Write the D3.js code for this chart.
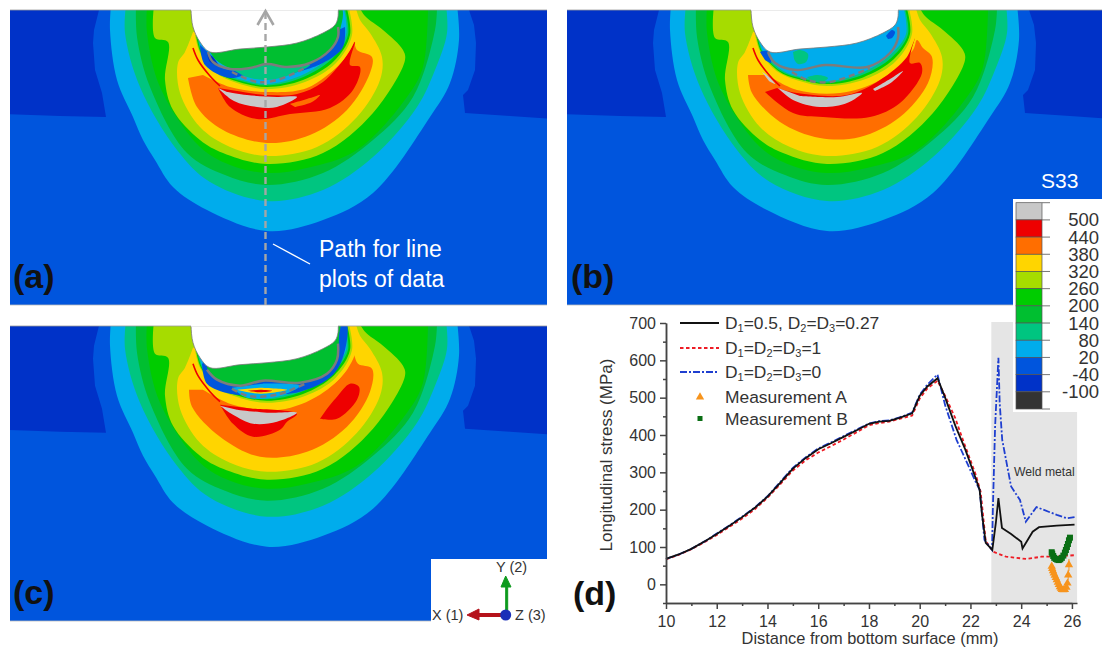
<!DOCTYPE html>
<html>
<head>
<meta charset="utf-8">
<style>
  html, body { margin: 0; padding: 0; background: #fff; }
  svg { display: block; }
  text { font-family: "Liberation Sans", Arial, sans-serif; }
</style>
</head>
<body>
<svg id="fig" width="1102" height="654"></svg>
<script src="https://d3js.org/d3.v7.min.js"></script>
<script>
// Colour bar of S33, top to bottom
var contourLabels = ["500", "440", "380", "320", "260", "200", "140", "80", "20", "-40", "-100"];
var contourColors = ["#c8c8c8", "#ee0000", "#ff6e00", "#ffd500", "#a6dc00", "#00cc00", "#00bf30", "#00c580", "#00acec", "#0055dd", "#0032c8", "#333333"];

// Contours, in model units measured from the top left of a panel
var baseBand = [[-10, -5], [545, -5], [545, 300], [-10, 300]];
var sidePatchLeft = [[-10, -5], [90, -5], [89, 0], [84, 20], [83, 33], [85, 60], [92, 83], [96, 107], [50, 106], [-10, 104]];
var sidePatchRight = [[545, -5], [459, -5], [459, 0], [464, 15], [466, 33], [465, 60], [458, 80], [453, 85], [455, 103], [500, 106], [545, 109]];
var band20 = [[101, -5], [100, 20], [107, 70], [123, 107], [133, 130], [145, 150], [163, 177], [197, 200], [257, 221], [313, 210], [363, 183], [420, 107], [440, 73], [449, 30], [447, -5]];
var band80 = [[116, -5], [115, 23], [130, 77], [167, 140], [200, 172], [257, 191], [313, 180], [363, 147], [407, 97], [425, 60], [437, 23], [436, -5]];
var band140 = [[126, -5], [127, 27], [140, 77], [177, 143], [215, 165], [257, 175], [313, 163], [363, 130], [403, 87], [425, 20], [427, -5]];
var band200 = [[137, -5], [137, 23], [150, 77], [190, 137], [220, 155], [257, 163], [297, 158], [347, 140], [397, 87], [413, 57], [418, -5]];
var band260 = [[144, -5], [145, 28], [158, 32], [155, 70], [163, 100], [190, 130], [213, 143], [257, 154], [313, 143], [363, 103], [395, 50], [393, 40], [373, 20], [355, 6], [348, -5]];
var band320 = [[183, 22], [175, 42], [168, 53], [170, 83], [190, 117], [220, 137], [257, 146], [307, 137], [347, 107], [370, 70], [372, 47], [360, 23], [350, 10], [345, -5]];

// Arcs of the thin rings under the groove
var ringYellow = [[184, 25], [188, 43], [203, 63], [225, 75], [257, 82], [297, 75], [328, 56], [346, 25], [340, -5]];
var ringLime = [[185, 25], [190, 43], [206, 63], [227, 73], [257, 79], [295, 72], [326, 53], [342, 25], [338, -5]];
var ringGreen = [[186, 25], [191, 43], [208, 63], [229, 72], [257, 77], [293, 70], [324, 51], [340, 25], [336, -5]];
var ringTeal = [[187, 25], [192, 43], [210, 63], [231, 71], [257, 75.5], [291, 68], [322, 49], [338, 25], [334, -5]];
var ringBlue = [[188, 25], [193, 43], [213, 63], [233, 70], [257, 74], [290, 66], [320, 47], [336, 25], [333, -5]];
var redEdge = [[183, 38], [188, 50], [200, 66], [210, 76]];

var groove = [[181, -5], [181, 0], [183, 17], [190, 32], [200, 42], [230, 39], [257, 37], [287, 33], [313, 23], [325, 15], [328, 7], [328, -5]];

// Panel (a)
var orangeA = [[178, 68], [187, 97], [213, 120], [257, 133], [300, 125], [337, 100], [360, 63], [362, 47], [347, 40], [343, 30], [330, 53], [297, 78], [257, 82], [220, 77], [193, 65]];
var redA = [[208, 78], [220, 97], [247, 109], [280, 104], [320, 98], [343, 80], [350, 57], [340, 55], [345, 32], [337, 45], [313, 72], [287, 84], [257, 85], [227, 81]];
var redSpotA = [[280, 94], [300, 88], [310, 85], [302, 92], [285, 97]];
var greyA = [[208, 78], [224, 91], [247, 97], [267, 97], [287, 87], [267, 87], [237, 85], [217, 82]];
var blueLeftA = [[190, 35], [195, 55], [220, 68], [237, 63], [213, 58], [203, 47]];
var blueRightA = [[335, 17], [333, 37], [313, 53], [280, 63], [293, 53], [320, 40], [328, 20]];
var darkA = [[197, 43], [200, 52], [208, 55], [203, 47]];
var tealA = [[215, 55], [237, 67], [257, 70], [277, 66], [300, 55], [277, 54], [257, 53], [235, 57]];
var greenA = [[200, 42], [206, 50], [220, 58], [240, 58], [257, 54], [277, 56], [300, 53], [320, 40], [330, 20], [330, -5], [200, -5]];
var solidA = [[198, 42], [203, 52], [220, 59], [240, 58], [257, 54], [277, 57], [300, 53], [320, 40], [328, 27], [328, 17]];
var dashA = [[222, 62], [247, 72], [267, 70], [297, 57]];

// Panel (b)
var orangeB = [[178, 65], [182, 83], [210, 112], [250, 128], [290, 127], [330, 107], [358, 73], [362, 47], [353, 38], [347, 30], [343, 40], [310, 70], [270, 83], [227, 80], [197, 65]];
var redB = [[195, 82], [223, 103], [253, 107], [300, 107], [330, 93], [352, 63], [350, 53], [340, 53], [345, 27], [337, 47], [310, 70], [277, 85], [227, 83], [207, 78]];
var greyB = [[208, 78], [223, 90], [250, 97], [277, 93], [292, 83], [267, 87], [230, 86]];
var greySliverB = [[303, 79], [320, 69], [333, 61], [322, 72], [305, 81]];
var whiteSliverB = [[192, 62], [198, 66], [205, 74], [199, 71]];
var tealSpotB = [[223, 42], [230, 40], [238, 44], [236, 52], [228, 54], [224, 49]];
var tealLensB = [[237, 67], [248, 65], [258, 68], [252, 72], [242, 72]];
var darkB = [[190, 42], [197, 41], [201, 53], [195, 50]];
var blueSpotB = [[316, 26], [322, 20], [325, 22], [322, 28], [318, 29]];
var solidB = [[198, 42], [205, 53], [227, 60], [255, 55], [297, 57], [320, 43], [328, 28], [328, 17]];
var dashB = [[222, 62], [237, 70], [260, 72], [300, 58]];

// Panel (c)
var orangeC = [[179, 64], [182, 81], [210, 111], [250, 131], [297, 126], [337, 101], [360, 66], [362, 43], [348, 38], [343, 28], [337, 44], [310, 69], [270, 84], [223, 79], [193, 64]];
var redC = [[210, 79], [223, 98], [243, 111], [270, 104], [277, 96], [287, 88], [243, 83]];
var redBlobC = [[310, 93], [327, 93], [347, 74], [349, 61], [340, 58], [327, 71], [317, 83]];
var greyC = [[210, 80], [223, 89], [243, 98], [267, 96], [287, 87], [257, 87], [227, 84]];
var blueC = [[192, 38], [197, 58], [220, 68], [243, 69], [290, 66], [323, 49], [335, 24], [335, -5], [300, -5]];
var greenC = [[197, 42], [207, 54], [230, 60], [253, 55], [290, 57], [317, 48], [327, 34], [329, 10], [329, -5], [197, -5]];
var lensBlueC = [[222, 62], [237, 72], [267, 71], [290, 60], [253, 58]];
var lensYellowC = [[227, 64], [250, 68], [277, 64], [250, 62]];
var lensRedC = [[238, 65], [250, 66.5], [262, 65], [250, 64]];
var solidC = [[197, 44], [207, 54], [230, 60], [253, 55], [290, 57], [317, 48], [327, 34], [328, 18]];
var dashC = [[222, 63], [237, 70], [267, 69], [297, 57]];

// Longitudinal stress along the path, panel (d)
var distSolid = [10, 10.5, 11, 11.6, 12, 12.5, 13, 13.5, 14, 14.5, 15, 15.5, 16, 16.5, 17, 17.5, 18, 18.4, 18.8, 19.2, 19.7, 20, 20.3, 20.7, 21, 21.4, 21.8, 22.2, 22.36, 22.45, 22.6, 22.86, 23, 23.1, 23.24, 23.6, 24, 24.05, 24.45, 24.7, 25.4, 26.1];
var stressSolid = [68, 80, 95, 118, 135, 157, 180, 205, 235, 272, 310, 338, 362, 378, 395, 412, 430, 436, 438, 446, 458, 505, 530, 552, 500, 425, 360, 285, 253, 190, 111, 92, 165, 231, 151, 135, 114, 96, 141, 153, 157, 160];
var distRed = [10, 10.5, 11, 11.6, 12, 12.5, 13, 13.5, 14, 14.5, 15, 15.5, 16, 16.5, 17, 17.5, 18, 18.4, 18.8, 19.2, 19.7, 20, 20.3, 20.7, 21, 21.4, 21.7, 22.2, 22.4, 22.6, 22.9, 23.4, 24.2, 24.8, 25.2, 26.1];
var stressRed = [67, 79, 94, 116, 132, 154, 176, 201, 232, 268, 305, 332, 353, 370, 388, 407, 426, 432, 436, 443, 452, 498, 525, 545, 505, 445, 387, 295, 248, 116, 87, 74, 68, 74, 74, 78];
var distBlue = [10, 10.5, 11, 11.6, 12, 12.5, 13, 13.5, 14, 14.5, 15, 15.5, 16, 16.5, 17, 17.5, 18, 18.4, 18.8, 19.2, 19.7, 20, 20.3, 20.7, 21, 21.45, 21.8, 22.2, 22.36, 22.55, 22.85, 22.88, 22.97, 23.1, 23.15, 23.25, 23.6, 23.95, 24.18, 24.6, 25.4, 25.8, 26.1];
var stressBlue = [68, 80, 95, 118, 136, 158, 181, 206, 236, 274, 312, 340, 364, 380, 397, 414, 431, 437, 439, 447, 460, 508, 535, 562, 480, 387, 335, 275, 253, 119, 92, 199, 424, 607, 486, 387, 262, 226, 168, 207, 186, 177, 180];
var distA = [25.2, 25.22, 25.25, 25.28, 25.32, 25.36, 25.4, 25.44, 25.48, 25.52, 25.56, 25.6, 25.66, 25.72, 25.78, 25.82, 25.85, 25.88];
var stressA = [48, 42, 36, 30, 24, 18, 12, 5, -1, -7, -11, -14, -15, -14, -8, 3, 25, 52];
var errorA = [3, 3, 3, 3, 3, 3, 3, 3, 3, 3, 3, 3, 3, 4, 6, 8, 14, 16];
var distB = [25.2, 25.22, 25.26, 25.3, 25.36, 25.42, 25.48, 25.54, 25.6, 25.66, 25.72, 25.76, 25.8, 25.84, 25.88, 25.92];
var stressB = [86, 82, 76, 71, 68, 66, 65, 67, 71, 77, 85, 92, 100, 108, 118, 125];
var xTicks = [10, 12, 14, 16, 18, 20, 22, 24, 26];
var xMinorTicks = [11, 13, 15, 17, 19, 21, 23, 25];
var yTicks = [0, 100, 200, 300, 400, 500, 600, 700];
var yMinorTicks = [-50, 50, 150, 250, 350, 450, 550, 650];

var svg = d3.select("#fig");
var smooth = d3.curveCatmullRom.alpha(0.5);
var bandColor = {};
contourLabels.forEach(function(l, i) { bandColor[l] = contourColors[i]; });

function drawPanel(p, idx) {
  var x = d3.scaleLinear().domain([0, 537]).range([p.x0, p.x0 + 537]);
  var y = d3.scaleLinear().domain([0, 295]).range([p.y0, p.y0 + 295]);
  var line = d3.line().x(function(d) { return x(d[0]); }).y(function(d) { return y(d[1]); }).curve(smooth);
  var straight = d3.line().x(function(d) { return x(d[0]); }).y(function(d) { return y(d[1]); });

  svg.append("clipPath").attr("id", "clip" + idx).append("rect")
    .attr("x", p.left).attr("y", p.top).attr("width", p.width).attr("height", 295);
  var g = svg.append("g").attr("clip-path", "url(#clip" + idx + ")");

  function fill(pts, color, isStraight) {
    g.append("path").attr("d", (isStraight ? straight : line)(pts) + "Z").attr("fill", color);
  }

  fill(baseBand, bandColor["-40"], true);
  fill(sidePatchLeft, bandColor["-100"], true);
  fill(sidePatchRight, bandColor["-100"], true);
  fill(band20, bandColor["20"]);
  fill(band80, bandColor["80"]);
  fill(band140, bandColor["140"]);
  fill(band200, bandColor["200"]);
  fill(band260, bandColor["260"]);
  fill(band320, bandColor["320"]);
  p.lower.forEach(function(s) { fill(s[0], bandColor[s[1]]); });

  // Thin red edge left of the rings
  g.append("path").attr("d", line(redEdge))
    .attr("fill", "none").attr("stroke", bandColor["440"]).attr("stroke-width", 1.6);

  [[ringYellow, "320"], [ringLime, "260"], [ringGreen, "200"], [ringTeal, "80"], [ringBlue, "20"]].forEach(function(r) {
    var pts = r[0].map(function(d) { return [d[0], d[1] + p.ringDy * (d[1] / 80)]; });
    fill(pts, bandColor[r[1]]);
  });
  p.upper.forEach(function(s) { fill(s[0], bandColor[s[1]]); });

  g.append("path").attr("d", line(groove) + "Z").attr("fill", "#fff").attr("stroke", "#777").attr("stroke-width", 0.8);

  g.append("path").attr("d", line(p.solid)).attr("fill", "none").attr("stroke", "#7c7c7c").attr("stroke-width", 2.5);
  g.append("path").attr("d", line(p.dash)).attr("fill", "none").attr("stroke", "#7c7c7c").attr("stroke-width", 2.5).attr("stroke-dasharray", "6,4");

  svg.append("line").attr("x1", p.left).attr("x2", p.left + p.width).attr("y1", p.top).attr("y2", p.top).attr("stroke", "#999").attr("stroke-width", 0.8);
  svg.append("line").attr("x1", p.left).attr("x2", p.left + p.width).attr("y1", p.top + 295).attr("y2", p.top + 295).attr("stroke", "#bbb").attr("stroke-width", 0.8);
  svg.append("line").attr("x1", x(181)).attr("x2", x(328)).attr("y1", p.top - 0.5).attr("y2", p.top - 0.5).attr("stroke", "#fff").attr("stroke-width", 2);
}

var panels = [
  { x0: 10, y0: 10, left: 10, top: 10, width: 537, ringDy: 0,
    lower: [[orangeA, "380"], [redA, "440"], [redSpotA, "380"], [greyA, "500"]],
    upper: [[blueLeftA, "-40"], [blueRightA, "-40"], [tealA, "80"], [greenA, "140"], [darkA, "-100"]],
    solid: solidA, dash: dashA },
  { x0: 570, y0: 10, left: 567, top: 10, width: 535, ringDy: -3,
    lower: [[orangeB, "380"], [redB, "440"], [greyB, "500"], [greySliverB, "500"], [whiteSliverB, "500"]],
    upper: [[tealSpotB, "80"], [tealLensB, "80"], [darkB, "-40"], [blueSpotB, "-40"]],
    solid: solidB, dash: dashB },
  { x0: 10, y0: 325.7, left: 10, top: 326, width: 537, ringDy: -2,
    lower: [[orangeC, "380"], [redC, "440"], [redBlobC, "440"], [greyC, "500"]],
    upper: [[blueC, "-40"], [greenC, "140"], [lensBlueC, "20"], [lensYellowC, "320"], [lensRedC, "440"]],
    solid: solidC, dash: dashC }
];
panels.forEach(drawPanel);

// Path arrow and note on panel (a)
svg.append("line").attr("x1", 265.5).attr("y1", 305).attr("x2", 265.5).attr("y2", 12)
  .attr("stroke", "#a6a6a6").attr("stroke-width", 2.4).attr("stroke-dasharray", "7,4");
svg.append("polyline").attr("points", "257.5,25 265.5,11 273.5,25").attr("fill", "none").attr("stroke", "#a6a6a6").attr("stroke-width", 2.6);
svg.append("line").attr("x1", 273).attr("y1", 244).attr("x2", 310).attr("y2", 264).attr("stroke", "#fff").attr("stroke-width", 1.4);
svg.append("text").attr("x", 319).attr("y", 257).attr("fill", "#fff").attr("font-size", 23).text("Path for line");
svg.append("text").attr("x", 319).attr("y", 287).attr("fill", "#fff").attr("font-size", 23).text("plots of data");

// Panel letters
[["(a)", 13, 288], ["(b)", 571, 288], ["(c)", 13, 604], ["(d)", 573, 605]].forEach(function(l) {
  svg.append("text").attr("x", l[1]).attr("y", l[2]).attr("font-size", 34).attr("font-weight", "bold").attr("fill", "#111").text(l[0]);
});

// Axis triad in the corner of panel (c)
svg.append("rect").attr("x", 431).attr("y", 559).attr("width", 117).attr("height", 63).attr("fill", "#fff");
svg.append("path").attr("d", "M505.7 615 V587 H501 L505.7 576 L511 587 H507.7 V615 Z").attr("fill", "#0e9a1e").attr("stroke", "#0e9a1e");
svg.append("path").attr("d", "M505.7 613.5 H479 V609 L467 615 L479 620 V616.5 H505.7 Z").attr("fill", "#b5121b").attr("stroke", "#b5121b");
svg.append("circle").attr("cx", 505.7).attr("cy", 615).attr("r", 5.5).attr("fill", "#1a2fb8");
[["Y (2)", 496, 572], ["X (1)", 432, 620], ["Z (3)", 515, 620]].forEach(function(l) {
  svg.append("text").attr("x", l[1]).attr("y", l[2]).attr("font-size", 14.5).attr("fill", "#333").text(l[0]);
});

// Line plot (d)
var xScale = d3.scaleLinear().domain([10, 26]).range([666, 1072]);
var yScale = d3.scaleLinear().domain([-50, 700]).range([603, 323]);

svg.append("rect").attr("x", xScale(22.82)).attr("y", yScale(700) - 1)
  .attr("width", xScale(26.2) - xScale(22.82)).attr("height", yScale(-50) - yScale(700) + 1).attr("fill", "#e5e5e5");
svg.append("text").attr("x", 1014).attr("y", 476).attr("font-size", 12.2).attr("fill", "#333").text("Weld metal");

var stressLine = d3.line().x(function(d) { return xScale(d[0]); }).y(function(d) { return yScale(d[1]); });

function drawSeries(xs, ys, color, width, dash) {
  svg.append("path").datum(d3.zip(xs, ys)).attr("d", stressLine)
    .attr("fill", "none").attr("stroke", color).attr("stroke-width", width).attr("stroke-dasharray", dash);
}
drawSeries(distRed, stressRed, "#ee1c25", 1.8, "3.5,2.5");
drawSeries(distBlue, stressBlue, "#1f3fd0", 1.8, "7,2,2,2");
drawSeries(distSolid, stressSolid, "#111", 1.8, null);

// Measurement markers with their error bars
svg.append("g").selectAll("line").data(d3.zip(distA, stressA, errorA)).enter().append("line")
  .attr("x1", function(d) { return xScale(d[0]); }).attr("x2", function(d) { return xScale(d[0]); })
  .attr("y1", function(d) { return yScale(d[1] - d[2]); }).attr("y2", function(d) { return yScale(d[1] + d[2]); })
  .attr("stroke", "#f7941d").attr("stroke-width", 1);
var triangle = d3.symbol().type(d3.symbolTriangle).size(30);
svg.append("g").selectAll("path").data(d3.zip(distA, stressA)).enter().append("path")
  .attr("d", triangle).attr("fill", "#f7941d")
  .attr("transform", function(d) { return "translate(" + xScale(d[0]) + "," + yScale(d[1]) + ")"; });
svg.append("g").selectAll("rect").data(d3.zip(distB, stressB)).enter().append("rect")
  .attr("x", function(d) { return xScale(d[0]) - 3; }).attr("y", function(d) { return yScale(d[1]) - 3; })
  .attr("width", 6).attr("height", 6).attr("fill", "#0a6e14");

function styleAxis(g) {
  g.selectAll("path, line").attr("stroke", "#444").attr("stroke-width", 1.5);
  g.selectAll("text").attr("font-size", 16).attr("fill", "#333").attr("font-family", '"Liberation Sans", Arial, sans-serif');
}
svg.append("g").attr("transform", "translate(0,603)")
  .call(d3.axisBottom(xScale).tickValues(xMinorTicks).tickSize(3).tickFormat("").tickSizeOuter(0)).call(styleAxis);
svg.append("g").attr("transform", "translate(0,603)")
  .call(d3.axisBottom(xScale.copy().domain([10, 26.2]).range([666, 1077])).tickValues(xTicks).tickSize(6).tickPadding(7).tickFormat(d3.format("d")).tickSizeOuter(0)).call(styleAxis);
svg.append("g").attr("transform", "translate(666,0)")
  .call(d3.axisLeft(yScale).tickValues(yMinorTicks).tickSize(3).tickFormat("").tickSizeOuter(0)).call(styleAxis);
svg.append("g").attr("transform", "translate(666,0)")
  .call(d3.axisLeft(yScale).tickValues(yTicks).tickSize(6).tickPadding(4).tickFormat(d3.format("d")).tickSizeOuter(0)).call(styleAxis);

svg.append("text").attr("x", 870).attr("y", 644).attr("text-anchor", "middle").attr("font-size", 16.4).attr("fill", "#333")
  .text("Distance from bottom surface (mm)");
svg.append("text").attr("transform", "translate(612,455) rotate(-90)").attr("text-anchor", "middle").attr("font-size", 17).attr("fill", "#333")
  .text("Longitudinal stress (MPa)");

// Legend of panel (d); "_n" marks a subscript
var legendNames = ["D_1=0.5, D_2=D_3=0.27", "D_1=D_2=D_3=1", "D_1=D_2=D_3=0", "Measurement A", "Measurement B"];
var legendRows = [329, 354, 378, 403, 425];
legendNames.forEach(function(name, i) {
  var t = svg.append("text").attr("x", 725).attr("y", legendRows[i]).attr("font-size", 17.4).attr("fill", "#333");
  name.split("_").forEach(function(part, j) {
    if (j === 0) { t.append("tspan").text(part); return; }
    t.append("tspan").attr("font-size", 11).attr("dy", 3).text(part[0]);
    t.append("tspan").attr("dy", -3).text(part.slice(1));
  });
});
[["#111", null, 1.8], ["#ee1c25", "3.5,2.5", 1.8], ["#1f3fd0", "7,2,2,2", 1.8]].forEach(function(s, i) {
  svg.append("line").attr("x1", 680).attr("x2", 719).attr("y1", legendRows[i] - 6).attr("y2", legendRows[i] - 6)
    .attr("stroke", s[0]).attr("stroke-dasharray", s[1]).attr("stroke-width", s[2]);
});
svg.append("path").attr("d", triangle).attr("fill", "#f7941d").attr("transform", "translate(700," + (legendRows[3] - 6) + ")");
svg.append("rect").attr("x", 697.5).attr("y", legendRows[4] - 9).attr("width", 5).attr("height", 5).attr("fill", "#0a6e14");

// S33 colour bar, over the corner of panel (b)
var barY = d3.scaleLinear().domain([0, contourColors.length]).range([202.7, 409]);
svg.append("rect").attr("x", 1013).attr("y", 199).attr("width", 89).attr("height", 213).attr("fill", "#fff");
svg.append("g").selectAll("rect").data(contourColors).enter().append("rect")
  .attr("x", 1016).attr("width", 26)
  .attr("y", function(d, i) { return barY(i); })
  .attr("height", function(d, i) { return barY(i + 1) - barY(i); })
  .attr("fill", function(d) { return d; })
  .attr("stroke", "#555").attr("stroke-width", 0.7);
svg.append("g").selectAll("line").data(d3.range(contourColors.length + 1)).enter().append("line")
  .attr("x1", 1042).attr("x2", 1050)
  .attr("y1", function(d) { return barY(d); }).attr("y2", function(d) { return barY(d); })
  .attr("stroke", "#777").attr("stroke-width", 1);
svg.append("g").selectAll("text").data(contourLabels).enter().append("text")
  .attr("x", 1099).attr("text-anchor", "end").attr("font-size", 18.5).attr("fill", "#333")
  .attr("y", function(d, i) { return barY(i + 1) + 6.5; })
  .text(function(d) { return d; });
svg.append("text").attr("x", 1041).attr("y", 188).attr("font-size", 21).attr("fill", "#fff").text("S33");
</script>
</body>
</html>
